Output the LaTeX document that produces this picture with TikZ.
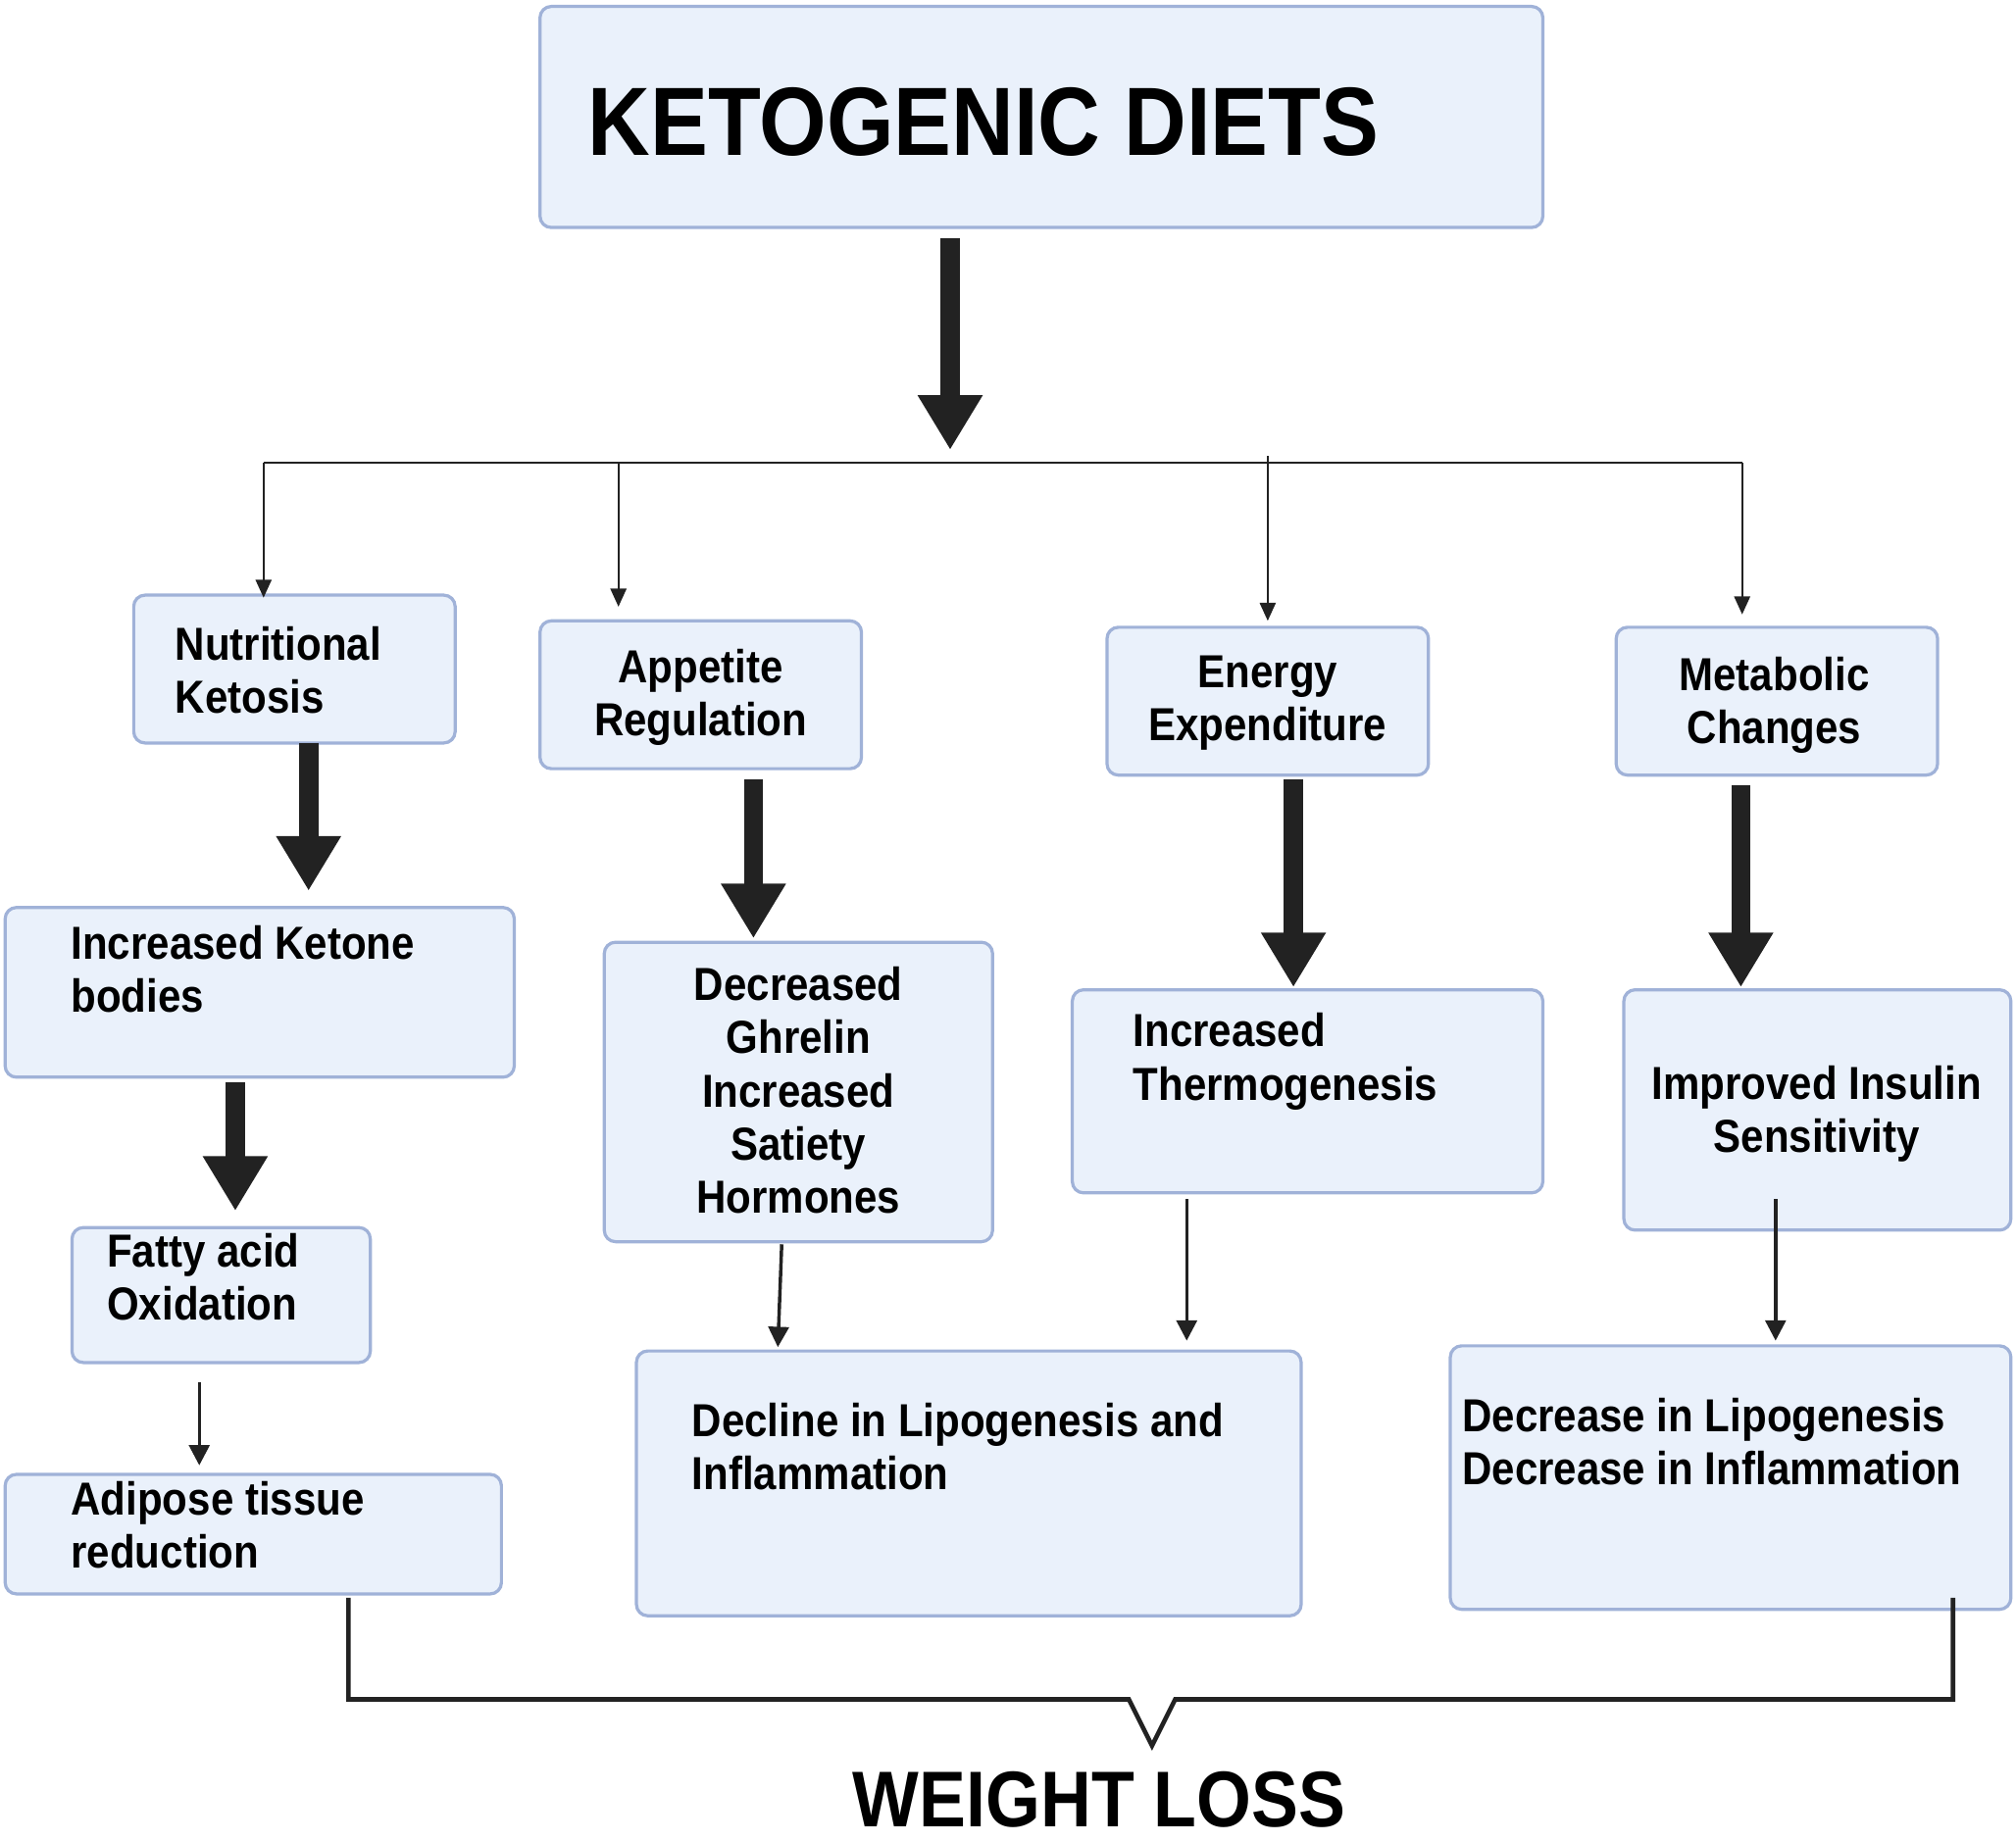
\documentclass[tikz,border=0pt]{standalone}
\usepackage{fontspec}
\setmainfont{Liberation Sans}[FakeStretch = 0.89]
\usetikzlibrary{arrows.meta}
\definecolor{boxfill}{RGB}{234,241,251}
\definecolor{boxline}{RGB}{160,178,216}
\definecolor{ink}{RGB}{34,34,34}
\tikzset{
  box/.style = {draw = boxline, fill = boxfill, line width = 1.4pt, rounded corners = 5pt},
  txt/.style = {font = \bfseries\fontsize{20.5}{23.5}\selectfont, inner sep = 0pt},
  big/.style = {draw = ink, line width = 0.3cm, -{Triangle[width = 0.95cm, length = 0.85cm]}},
  small/.style = {draw = ink, line width = 1.5pt, -{Triangle[width = 9pt, length = 9pt]}},
  thin/.style = {draw = ink, line width = 1pt, -{Triangle[width = 7pt, length = 8pt]}}
}
\begin{document}
\begin{tikzpicture}[x = 0.02cm, y = -0.02cm]
  \useasboundingbox (0, 0) rectangle (1568, 1433);
  % boxes
  \draw[box] (420, 5) rectangle (1200, 177);
  \draw[box] (104, 463) rectangle (354, 578);
  \draw[box] (420, 483) rectangle (670, 598);
  \draw[box] (861, 488) rectangle (1111, 603);
  \draw[box] (1257, 488) rectangle (1507, 603);
  \draw[box] (4, 706) rectangle (400, 838);
  \draw[box] (470, 733) rectangle (772, 966);
  \draw[box] (834, 770) rectangle (1200, 928);
  \draw[box] (1263, 770) rectangle (1564, 957);
  \draw[box] (56, 955) rectangle (288, 1060);
  \draw[box] (4, 1147) rectangle (390, 1240);
  \draw[box] (495, 1051) rectangle (1012, 1257);
  \draw[box] (1128, 1047) rectangle (1564, 1252);

  % texts
  \node[txt, anchor = west, font = \bfseries\fontsize{43}{48}\selectfont] (keto) at (457, 95) {KETOGENIC DIETS};
  \node[txt, anchor = north west, align = left] (nk) at (136, 487) {Nutritional\\Ketosis};
  \node[txt, anchor = north, align = center] (ar) at (545, 505) {Appetite\\Regulation};
  \node[txt, anchor = north, align = center] (ee) at (986, 510) {Energy\\Expenditure};
  \node[txt, anchor = north, align = center] (mc) at (1380, 511) {Metabolic\\Changes};
  \node[txt, anchor = north west, align = left] (ikb) at (55, 720) {Increased Ketone\\bodies};
  \node[txt, anchor = north, align = center] (dg) at (621, 752) {Decreased\\Ghrelin\\Increased\\Satiety\\Hormones};
  \node[txt, anchor = north west, align = left] (it) at (881, 788) {Increased\\Thermogenesis};
  \node[txt, anchor = north, align = center] (iis) at (1413, 829) {Improved Insulin\\Sensitivity};
  \node[txt, anchor = north west, align = left] (fao) at (83, 959) {Fatty acid\\Oxidation};
  \node[txt, anchor = north west, align = left] (atr) at (55, 1152) {Adipose tissue\\reduction};
  \node[txt, anchor = north west, align = left] (dli) at (538, 1091) {Decline in Lipogenesis and\\Inflammation};
  \node[txt, anchor = north west, align = left] (dld) at (1137, 1087) {Decrease in Lipogenesis\\Decrease in Inflammation};
  \node[txt, font = \bfseries\fontsize{35}{40}\selectfont] (wl) at (855, 1400) {WEIGHT LOSS};

  % main arrow and branches
  \coordinate (top) at (739, 185);
  \coordinate (split) at (739, 350);
  \draw[big] (top) -- (split);
  \draw[line width = 1pt, ink] (205, 360) -- (1355, 360);
  \draw[thin] (205, 360) -- (205, 465);
  \draw[thin] (481, 360) -- (481, 472);
  \draw[thin] (986, 355) -- (986, 483);
  \draw[thin] (1355, 360) -- (1355, 478);

  % thick arrows
  \draw[big] (240, 578) -- (240, 693);
  \draw[big] (586, 606) -- (586, 730);
  \draw[big] (1006, 606) -- (1006, 768);
  \draw[big] (1354, 611) -- (1354, 768);
  \draw[big] (183, 842) -- (183, 942);

  % small arrows
  \draw[small] (155, 1075) -- (155, 1140);
  \draw[small] (608, 968) -- (605, 1048);
  \draw[small] (923, 933) -- (923, 1043);
  \draw[small] (1381, 933) -- (1381, 1043);

  % bracket
  \draw[ink, line width = 2pt] (271, 1243) -- (271, 1322) -- (878, 1322) -- (896, 1358)
    -- (914, 1322) -- (1519, 1322) -- (1519, 1243);
\end{tikzpicture}
\end{document}
